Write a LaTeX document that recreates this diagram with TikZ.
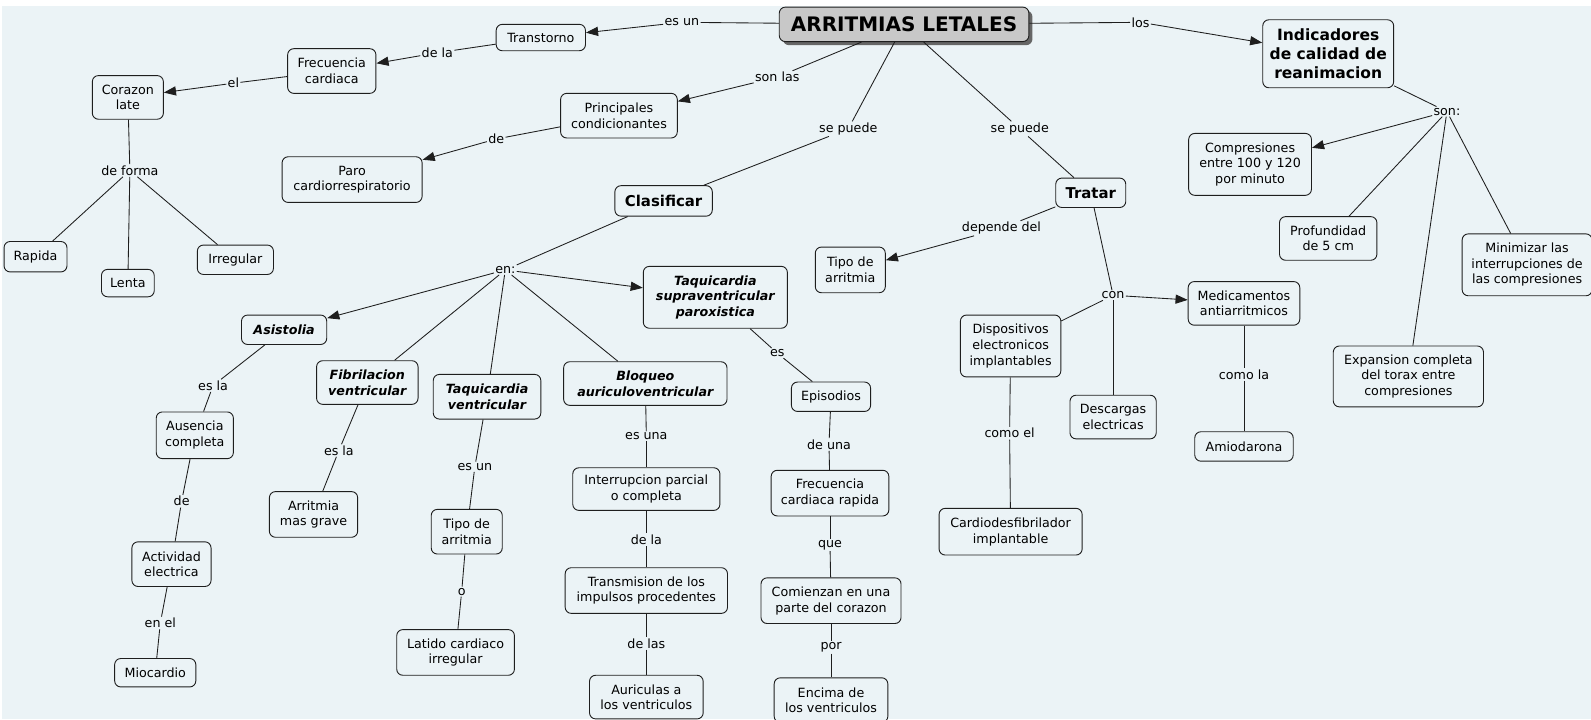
\documentclass[tikz,border=0pt]{standalone}
\usepackage{fontspec}
\setmainfont{DejaVu Sans}[BoldFont={DejaVu Sans Bold},ItalicFont={DejaVu Sans Oblique},BoldItalicFont={DejaVu Sans Bold Oblique}]
\usetikzlibrary{arrows.meta,shadows}
\definecolor{bg}{HTML}{EBF3F6}
\definecolor{titlefill}{HTML}{C8C8C8}
\definecolor{edge}{HTML}{1E1E1E}
\begin{document}
\begin{tikzpicture}[x=1pt,y=-1pt,
  concept/.style={draw=edge, line width=0.9pt, rounded corners=6pt, fill=bg, align=center, inner sep=0pt,
    font=\fontsize{12.5}{15.4}\selectfont},
  bi/.style={concept, font=\fontsize{12.5}{15.4}\selectfont\bfseries\itshape},
  bold/.style={concept, font=\fontsize{14.7}{17}\selectfont\bfseries},
  lbl/.style={fill=bg, inner sep=1.2pt, font=\fontsize{12.5}{14}\selectfont},
  con/.style={draw=edge, line width=0.85pt},
  arr/.style={con, -{Triangle[length=12pt,width=9pt]}},
]
\useasboundingbox (0,0) rectangle (1568,709);
\fill[white] (0,0) rectangle (1568,709);
\fill[bg] (1.5,6) rectangle (1568,709);

% concepts
\node[concept, fill=titlefill, minimum width=246pt, minimum height=34pt,
  drop shadow={shadow xshift=3.5pt, shadow yshift=-3.5pt, fill=black!60, opacity=1},
  font=\fontsize{19.7}{24}\selectfont\bfseries] (title) at (891,24) {ARRITMIAS LETALES};
\node[concept, minimum width=88pt, minimum height=26pt] (trans) at (533,37) {Transtorno};
\node[concept, minimum width=87pt, minimum height=44pt] (frec) at (327,70) {Frecuencia\\cardiaca};
\node[concept, minimum width=70pt, minimum height=43pt] (cora) at (126,96) {Corazon\\late};
\node[concept, minimum width=62pt, minimum height=30pt] (rap) at (35,253) {Rapida};
\node[concept, minimum width=52pt, minimum height=27pt] (lenta) at (126,279) {Lenta};
\node[concept, minimum width=75pt, minimum height=29pt] (irreg) at (232,256) {Irregular};
\node[concept, minimum width=115pt, minimum height=44pt] (princ) at (610,114) {Principales\\condicionantes};
\node[concept, minimum width=138pt, minimum height=45pt] (paro) at (347,177) {Paro\\cardiorrespiratorio};
\node[bold, minimum width=96pt, minimum height=30pt] (clas) at (654,198) {Clasificar};
\node[bold, minimum width=69pt, minimum height=29pt] (trat) at (1075,190) {Tratar};
\node[concept, minimum width=129pt, minimum height=67pt, font=\fontsize{15.3}{18.3}\selectfont\bfseries] (indic) at (1309,53) {Indicadores\\de calidad de\\reanimacion};
\node[concept, minimum width=121pt, minimum height=61pt] (comp) at (1232,162) {Compresiones\\entre 100 y 120\\por minuto};
\node[concept, minimum width=96pt, minimum height=43pt] (prof) at (1309,235) {Profundidad\\de 5 cm};
\node[concept, minimum width=128pt, minimum height=61pt] (mini) at (1505,261) {Minimizar las\\interrupciones de\\las compresiones};
\node[concept, minimum width=148pt, minimum height=60pt] (expa) at (1388,371) {Expansion completa\\del torax entre\\compresiones};
\node[concept, minimum width=69pt, minimum height=45pt] (tipo2) at (838,266) {Tipo de\\arritmia};
\node[concept, minimum width=110pt, minimum height=43pt] (medi) at (1226,299) {Medicamentos\\antiarritmicos};
\node[concept, minimum width=99pt, minimum height=61pt] (disp) at (996,341) {Dispositivos\\electronicos\\implantables};
\node[concept, minimum width=85pt, minimum height=43pt] (desc) at (1097,411) {Descargas\\electricas};
\node[concept, minimum width=141pt, minimum height=46pt] (card) at (996,524) {Cardiodesfibrilador\\implantable};
\node[concept, minimum width=97pt, minimum height=29pt] (amio) at (1226,440) {Amiodarona};
\node[bi, minimum width=84pt, minimum height=29pt] (asis) at (280,325) {Asistolia};
\node[bi, minimum width=100pt, minimum height=43pt] (fibr) at (362,377) {Fibrilacion\\ventricular};
\node[bi, minimum width=106pt, minimum height=44pt] (taqv) at (480,391) {Taquicardia\\ventricular};
\node[bi, minimum width=161pt, minimum height=43pt] (bloq) at (636,378) {Bloqueo\\auriculoventricular};
\node[bi, minimum width=142pt, minimum height=61pt] (tsp) at (705,293) {Taquicardia\\supraventricular\\paroxistica};
\node[concept, minimum width=78pt, minimum height=29pt] (epis) at (819,391) {Episodios};
\node[concept, minimum width=116pt, minimum height=45pt] (frecr) at (818,486) {Frecuencia\\cardiaca rapida};
\node[concept, minimum width=138pt, minimum height=45pt] (comi) at (819,592) {Comienzan en una\\parte del corazon};
\node[concept, minimum width=112pt, minimum height=44pt] (enci) at (819,690) {Encima de\\los ventriculos};
\node[concept, minimum width=76pt, minimum height=46pt] (ause) at (192,429) {Ausencia\\completa};
\node[concept, minimum width=78pt, minimum height=44pt] (acti) at (169,556) {Actividad\\electrica};
\node[concept, minimum width=80pt, minimum height=28pt] (mioc) at (153,663) {Miocardio};
\node[concept, minimum width=87pt, minimum height=45pt] (arrg) at (309,507) {Arritmia\\mas grave};
\node[concept, minimum width=70pt, minimum height=44pt] (tipo1) at (460,524) {Tipo de\\arritmia};
\node[concept, minimum width=116pt, minimum height=45pt] (lati) at (449,643) {Latido cardiaco\\irregular};
\node[concept, minimum width=145pt, minimum height=42pt] (inte) at (637,482) {Interrupcion parcial\\o completa};
\node[concept, minimum width=160pt, minimum height=45pt] (tran) at (637,582) {Transmision de los\\impulsos procedentes};
\node[concept, minimum width=112pt, minimum height=43pt] (auri) at (637,687) {Auriculas a\\los ventriculos};

% linking phrases
\node[lbl] (esun1) at (672,22) {es un};
\node[lbl] (dela1) at (431,52) {de la};
\node[lbl] (el) at (230,82) {el};
\node[lbl] (deforma) at (128,168) {de forma};
\node[lbl] (sonlas) at (766,76) {son las};
\node[lbl] (de1) at (489,137) {de};
\node[lbl] (sepuede1) at (836,127) {se puede};
\node[lbl] (sepuede2) at (1005,127) {se puede};
\node[lbl] (los) at (1124,22) {los};
\node[lbl] (son) at (1426,110) {son:};
\node[lbl] (dependedel) at (987,225) {depende del};
\node[lbl] (lcon) at (1097,291) {con};
\node[lbl] (comoel) at (995,427) {como el};
\node[lbl] (comola) at (1226,369) {como la};
\node[lbl] (en) at (498,266) {en:};
\node[lbl] (es) at (766,348) {es};
\node[lbl] (deuna) at (817,438) {de una};
\node[lbl] (que) at (818,537) {que};
\node[lbl] (por) at (819,638) {por};
\node[lbl] (esla1) at (210,380) {es la};
\node[lbl] (de2) at (179,494) {de};
\node[lbl] (enel) at (158,614) {en el};
\node[lbl] (esla2) at (334,444) {es la};
\node[lbl] (esun2) at (468,460) {es un};
\node[lbl] (o) at (455,583) {o};
\node[lbl] (esuna) at (637,430) {es una};
\node[lbl] (dela2) at (637,532) {de la};
\node[lbl] (delas) at (637,634) {de las};

% connectors
\draw[con] (title) -- (esun1); \draw[arr] (esun1) -- (trans);
\draw[con] (trans) -- (dela1); \draw[arr] (dela1) -- (frec);
\draw[con] (frec) -- (el); \draw[arr] (el) -- (cora);
\draw[con] (cora) -- (deforma);
\draw[con] (deforma) -- (rap);
\draw[con] (deforma) -- (lenta);
\draw[con] (deforma) -- (irreg);
\draw[con] (title) -- (sonlas); \draw[arr] (sonlas) -- (princ);
\draw[con] (princ) -- (de1); \draw[arr] (de1) -- (paro);
\draw[con] (title) -- (sepuede1); \draw[con] (sepuede1) -- (clas);
\draw[con] (title) -- (sepuede2); \draw[con] (sepuede2) -- (trat);
\draw[con] (title) -- (los); \draw[arr] (los) -- (indic);
\draw[con] (indic) -- (son);
\draw[arr] (son) -- (comp);
\draw[con] (son) -- (prof);
\draw[con] (son) -- (expa);
\draw[con] (son) -- (mini);
\draw[con] (trat) -- (dependedel); \draw[arr] (dependedel) -- (tipo2);
\draw[con] (trat) -- (lcon);
\draw[arr] (lcon) -- (medi);
\draw[con] (lcon) -- (disp);
\draw[con] (lcon) -- (desc);
\draw[con] (disp) -- (comoel); \draw[con] (comoel) -- (card);
\draw[con] (medi) -- (comola); \draw[con] (comola) -- (amio);
\draw[con] (clas) -- (en);
\draw[arr] (en) -- (asis);
\draw[con] (en) -- (fibr);
\draw[con] (en) -- (taqv);
\draw[con] (en) -- (bloq);
\draw[arr] (en) -- (tsp);
\draw[con] (tsp) -- (es); \draw[con] (es) -- (epis);
\draw[con] (epis) -- (deuna); \draw[con] (deuna) -- (frecr);
\draw[con] (frecr) -- (que); \draw[con] (que) -- (comi);
\draw[con] (comi) -- (por); \draw[con] (por) -- (enci);
\draw[con] (asis) -- (esla1); \draw[con] (esla1) -- (ause);
\draw[con] (ause) -- (de2); \draw[con] (de2) -- (acti);
\draw[con] (acti) -- (enel); \draw[con] (enel) -- (mioc);
\draw[con] (fibr) -- (esla2); \draw[con] (esla2) -- (arrg);
\draw[con] (taqv) -- (esun2); \draw[con] (esun2) -- (tipo1);
\draw[con] (tipo1) -- (o); \draw[con] (o) -- (lati);
\draw[con] (bloq) -- (esuna); \draw[con] (esuna) -- (inte);
\draw[con] (inte) -- (dela2); \draw[con] (dela2) -- (tran);
\draw[con] (tran) -- (delas); \draw[con] (delas) -- (auri);
\end{tikzpicture}
\end{document}
